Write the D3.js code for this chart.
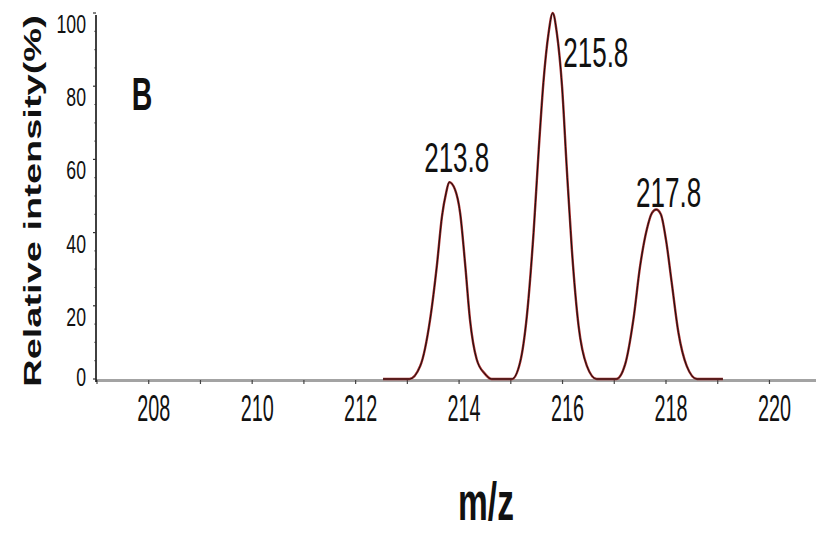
<!DOCTYPE html>
<html>
<head>
<meta charset="utf-8">
<script src="https://cdn.jsdelivr.net/npm/d3@7"></script>
<style>
  body { margin: 0; background: #fff; }
  svg { display: block; }
  text { font-family: "Liberation Sans", Arial, sans-serif; fill: #111; }
</style>
</head>
<body>
<svg id="chart" width="816" height="533"></svg>
<script>
// spectrum (m/z, relative intensity %)
const mz = [212.53, 213.04, 213.25, 213.44, 213.57, 213.67, 213.75, 213.81, 213.92, 214.02, 214.12, 214.21, 214.34, 214.5, 214.63,
            215.02, 215.18, 215.31, 215.44, 215.54, 215.63, 215.73, 215.81, 215.89, 215.99, 216.08, 216.18, 216.31, 216.47, 216.66,
            217.04, 217.21, 217.37, 217.5, 217.63, 217.73, 217.81, 217.9, 218.0, 218.11, 218.24, 218.4, 218.6, 219.1];
const intensity = [0, 0, 3.6, 16.3, 30.9, 44.5, 50.9, 53.8, 51.8, 45.4, 30.9, 16.3, 5.4, 1.4, 0,
                   0, 4.6, 17.2, 40, 62.7, 81, 94.5, 100, 94.5, 80, 58, 35.4, 14.5, 3.6, 0,
                   0, 4, 16.3, 30.9, 40.9, 45.4, 46.3, 45, 38, 26.4, 12.7, 3.6, 0, 0];

const peakMz = [213.8, 215.8, 217.8];
const peakInt = [53.8, 100, 46.3];
const peakLabels = ["213.8", "215.8", "217.8"];

const xTicks = [208, 210, 212, 214, 216, 218, 220];
const yTicks = [0, 20, 40, 60, 80, 100];

// label placement relative to each peak top
const peakLabelOffset = [[8, -10, "middle"], [11, 54, "start"], [13, -3, "middle"]];

const svg = d3.select("#chart");

const x = d3.scaleLinear().domain([207, 220.9]).range([97, 816]);
const y = d3.scaleLinear().domain([0, 100]).range([379, 13]);

// squished text, the picture is compressed horizontally
function label(g, str, tx, ty, size, sx, anchor, bold) {
  return g.append("text")
    .attr("transform", `translate(${tx},${ty}) scale(${sx},1)`)
    .attr("text-anchor", anchor)
    .style("font-size", size + "px")
    .style("font-weight", bold ? "bold" : "normal")
    .text(str);
}

// x axis
svg.append("line")
  .attr("x1", 96).attr("x2", 816)
  .attr("y1", 380.5).attr("y2", 380.5)
  .attr("stroke", "#a3a3a3").attr("stroke-width", 3);

svg.selectAll(".xtick")
  .data(d3.range(207, 221))
  .enter().append("line")
  .attr("class", "xtick")
  .attr("x1", d => x(d)).attr("x2", d => x(d))
  .attr("y1", 380).attr("y2", 384)
  .attr("stroke", "#444").attr("stroke-width", 1.2);

xTicks.forEach(t => label(svg, t, x(t) + 5, 421, 36, 0.55, "middle", false));

// y axis
svg.append("line")
  .attr("x1", 96).attr("x2", 96)
  .attr("y1", 15).attr("y2", 382)
  .attr("stroke", "#111").attr("stroke-width", 1.6);

svg.selectAll(".ytick")
  .data(d3.range(0, 101, 5))
  .enter().append("line")
  .attr("class", "ytick")
  .attr("x1", d => d % 20 === 0 ? 93 : 94.5).attr("x2", 96)
  .attr("y1", d => y(d)).attr("y2", d => y(d))
  .attr("stroke", "#333").attr("stroke-width", 1.2);

yTicks.forEach(t => label(svg, t, 86, Math.min(y(t) + 20, 386), 26, 0.68, "end", false));

// axis titles
svg.append("text")
  .attr("transform", "translate(41,201) rotate(-90) scale(1,0.62)")
  .attr("text-anchor", "middle")
  .style("font-size", "38px")
  .style("font-weight", "bold")
  .text("Relative intensity(%)");

label(svg, "m/z", 486, 520, 54, 0.62, "middle", true);
label(svg, "B", 142, 110, 46, 0.62, "middle", true);

// spectrum
const pts = mz.map((m, i) => [m, intensity[i]]);
const line = d3.line()
  .x(d => x(d[0]))
  .y(d => y(d[1]))
  .curve(d3.curveMonotoneX);

svg.append("path")
  .attr("d", line(pts))
  .attr("fill", "none")
  .attr("stroke", "#a52a2a")
  .attr("stroke-width", 2.4);

svg.append("path")
  .attr("d", line(pts))
  .attr("fill", "none")
  .attr("stroke", "#111")
  .attr("stroke-width", 1);

// peak labels
peakLabels.forEach((s, i) => {
  const o = peakLabelOffset[i];
  label(svg, s, x(peakMz[i]) + o[0], y(peakInt[i]) + o[1], 42, 0.62, o[2], false);
});
</script>
</body>
</html>
